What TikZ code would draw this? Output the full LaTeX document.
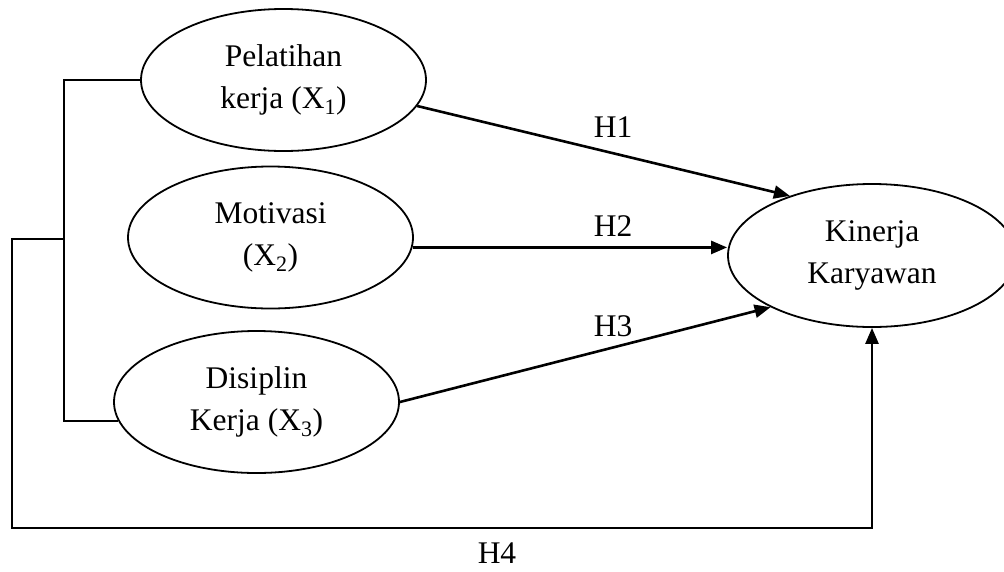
\documentclass[tikz,border=0pt]{standalone}
\usepackage{fontspec}
\setmainfont{Liberation Serif}
\usetikzlibrary{positioning, shapes.geometric, arrows.meta}
\newcommand{\varFont}{\fontsize{31.5}{42}\selectfont}
\tikzstyle{diagram} = [x = 1pt, y = -1pt]
\tikzstyle{varStyle} = [draw, ellipse, line width = 1.8pt, minimum width = 285pt, minimum height = 142pt, inner sep = 0pt, align = center, font = \varFont]
\tikzstyle{pathLine} = [line width = 2.6pt, -{Triangle[length = 16pt, width = 13pt]}]
\tikzstyle{bracketLine} = [line width = 2pt]
\tikzstyle{hypText} = [font = \varFont, inner sep = 0pt]

\begin{document}
\begin{tikzpicture}[diagram]
  \useasboundingbox (0,0) rectangle (1004,571);

  % variables
  \node [varStyle] (pelatihan) at (283.5, 80) {Pelatihan\\kerja (X\textsubscript{1})};
  \node [varStyle] (motivasi) at (270.5, 237.5) {Motivasi\\(X\textsubscript{2})};
  \node [varStyle] (disiplin) at (256.5, 402) {Disiplin\\Kerja (X\textsubscript{3})};
  \node [varStyle, minimum width = 288pt, minimum height = 143pt] (kinerja) at (872, 255.5) {Kinerja\\Karyawan};

  % hypotheses
  \draw [pathLine] (pelatihan.-11) -- (kinerja.144);
  \draw [pathLine] (motivasi.-4) -- (motivasi.-4 -| kinerja.west);
  \draw [pathLine] (disiplin.east) -- (kinerja.207);

  \node [hypText] (hOne) at (613, 127) {H1};
  \node [hypText] (hTwo) at (613, 226) {H2};
  \node [hypText] (hThree) at (613, 326) {H3};

  % joint path
  \coordinate (joint) at (64, 79);
  \coordinate (hub) at (64, 239);
  \coordinate (lowCorner) at (12, 528);
  \draw [bracketLine] (pelatihan.west) -- (pelatihan.west -| joint) |- (disiplin.188);
  \draw [pathLine] (hub) -| (lowCorner) -| (kinerja.south);
  \node [hypText] (hFour) at (497, 553) {H4};
\end{tikzpicture}
\end{document}
